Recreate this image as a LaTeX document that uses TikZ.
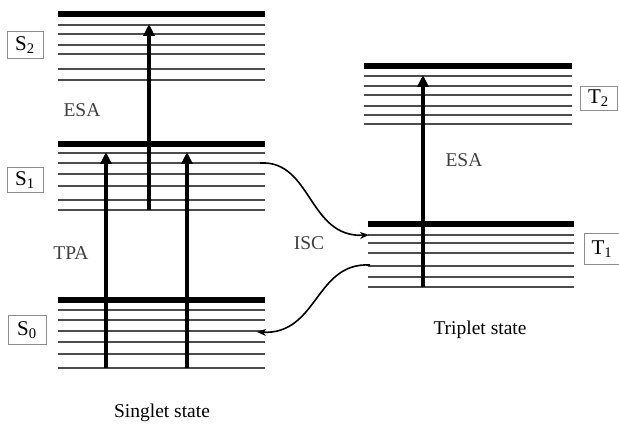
\documentclass[tikz,border=0pt]{standalone}
\usepackage{fontspec}
\setmainfont{Liberation Serif}
\usetikzlibrary{arrows.meta}
\begin{document}
\begin{tikzpicture}[x=1pt,y=-1pt,
  thick level/.style={line width=5.5pt,black},
  thin level/.style={line width=1.1pt,black!70},
  trans/.style={line width=3.2pt,-{Triangle[width=11pt,length=12pt]}},
  isc/.style={line width=1.6pt,-{Stealth[width=7pt,length=9pt]}},
  statebox/.style={draw=black!45,line width=0.6pt,fill=white,inner sep=0pt,minimum height=27pt,font=\fontsize{21}{22}\selectfont},
  proc/.style={text=black!75,font=\fontsize{19.5}{21}\selectfont},
  caption/.style={font=\fontsize{19.5}{21}\selectfont}]
\useasboundingbox (0,0) rectangle (619,425);
% S2
\draw[thick level] (58,14) -- (265,14);
\foreach \y in {25,34,45,54,69,80} \draw[thin level] (58,\y) -- (265,\y);
% S1
\draw[thick level] (58,144) -- (265,144);
\foreach \y in {153,163,174,186,200,210} \draw[thin level] (58,\y) -- (265,\y);
% S0
\draw[thick level] (58,300) -- (265,300);
\foreach \y in {310,320,331,342,354,368} \draw[thin level] (58,\y) -- (265,\y);
% T2
\draw[thick level] (364,66) -- (572,66);
\foreach \y in {76,86,95,106,115,124} \draw[thin level] (364,\y) -- (572,\y);
% T1
\draw[thick level] (368,224) -- (574,224);
\foreach \y in {235,243,253,266,277,287} \draw[thin level] (368,\y) -- (574,\y);
% coordinates
\coordinate (esa1s) at (149,210); \coordinate (esa1e) at (149,24);
\coordinate (tpa1s) at (106,368); \coordinate (tpa1e) at (106,152);
\coordinate (tpa2s) at (187,368); \coordinate (tpa2e) at (187,152);
\coordinate (esa2s) at (423,287); \coordinate (esa2e) at (423,75);
\coordinate (iscs) at (260,163); \coordinate (isce) at (369,235);
\coordinate (rets) at (370,265); \coordinate (rete) at (257,332);
% arrows
\draw[trans] (esa1s) -- (esa1e);
\draw[trans] (tpa1s) -- (tpa1e);
\draw[trans] (tpa2s) -- (tpa2e);
\draw[trans] (esa2s) -- (esa2e);
\draw[isc] (iscs) .. controls (312,160) and (308,238) .. (isce);
\draw[isc] (rets) .. controls (315,262) and (318,335) .. (rete);
% labels
\node[statebox,minimum width=36pt] (s2) at (25,45) {S\textsubscript{2}};
\node[statebox,minimum width=36pt,minimum height=25pt] (s1) at (25,180) {S\textsubscript{1}};
\node[statebox,minimum width=38pt,minimum height=29pt] (s0) at (27,330) {S\textsubscript{0}};
\node[statebox,minimum width=37pt,minimum height=24pt] (t2) at (598.5,98.5) {T\textsubscript{2}};
\node[statebox,minimum width=36pt,minimum height=31pt] (t1) at (602,249) {T\textsubscript{1}};
\node[proc] (esal) at (82,110) {ESA};
\node[proc] (tpal) at (71,253) {TPA};
\node[proc] (esar) at (464,160) {ESA};
\node[proc] (iscl) at (309,243) {ISC};
\node[caption] (sing) at (162,413) {Singlet state};
\node[caption] (trip) at (480,330) {Triplet state};
\end{tikzpicture}
\end{document}
